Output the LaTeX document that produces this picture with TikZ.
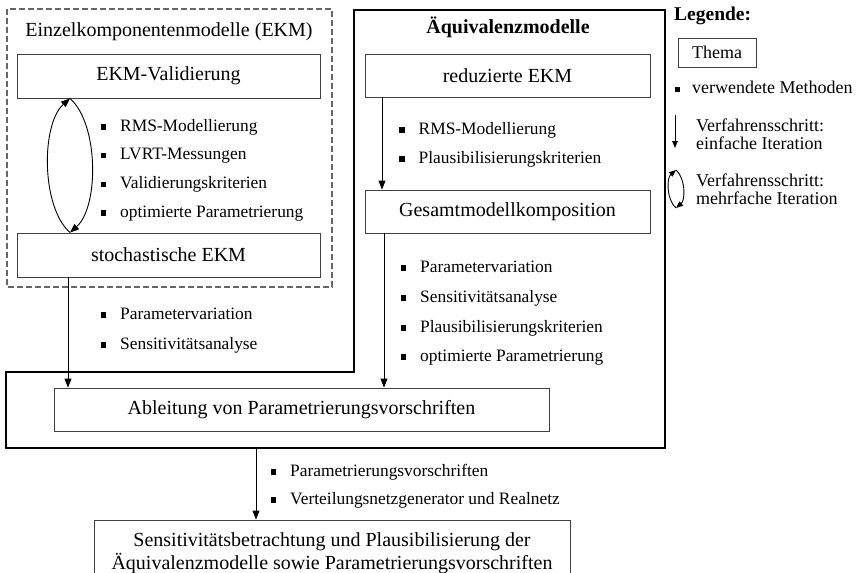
\documentclass[tikz,border=0pt]{standalone}
\usepackage{fontspec}
\setmainfont{Liberation Serif}
\usetikzlibrary{arrows.meta}
\newcommand\fsz[2]{\fontsize{#1}{#2}\selectfont}
\newcommand\bsq{\rule[1.5pt]{5.5pt}{5.5pt}\hspace{14pt}}
\begin{document}
\begin{tikzpicture}[x=1pt,y=-1pt,
  box/.style={draw=black!75, line width=0.9pt, inner sep=0pt, font=\fsz{20}{24}},
  item/.style={anchor=west, inner sep=0pt, font=\fsz{17.4}{20}, text height=11.5pt, text depth=3.5pt},
  legtext/.style={anchor=west, inner sep=0pt, align=left, font=\fsz{18}{18.5}},
  arr/.style={-{Triangle[length=9pt,width=7pt]}, line width=0.9pt},
  sarr/.style={-{Triangle[length=7pt,width=5.5pt]}, line width=0.9pt},
  frame/.style={line width=2pt, line join=miter},
  dashbox/.style={draw=black!60, line width=1.1pt, dash pattern=on 6pt off 3pt}]
\useasboundingbox (0,0) rectangle (860,573);
% ---- EKM (dashed group)
\draw[dashbox] (7,9) rectangle (332,287);
\node[inner sep=0pt, font=\fsz{20}{24}] (tekm) at (169,32) {Einzelkomponentenmodelle (EKM)};
\node[box, minimum width=303pt, minimum height=44pt] (val) at (168.5,76) {EKM-Validierung};
\node[box, minimum width=303pt, minimum height=44pt] (stoch) at (168.5,255) {stochastische EKM};
\node[item] (l1) at (100.5,127) {\bsq RMS-Modellierung};
\node[item] (l2) at (100.5,155.5) {\bsq LVRT-Messungen};
\node[item] (l3) at (100.5,184.5) {\bsq Validierungskriterien};
\node[item] (l4) at (100.5,213) {\bsq optimierte Parametrierung};
\coordinate (xit) at (70,0);
\draw[arr] (stoch.north -| xit) .. controls (41,207) and (41,124) .. (val.south -| xit);
\draw[arr] (val.south -| xit) .. controls (99,124) and (99,207) .. (stoch.north -| xit);
% ---- Aequivalenzmodelle (thick frame)
\draw[frame] (354,10) -- (665,10) -- (665,448) -- (6,448) -- (6,372) -- (354,372) -- cycle;
\node[inner sep=0pt, font=\fsz{20}{24}\bfseries] (taeq) at (508,27) {Äquivalenzmodelle};
\node[box, minimum width=285pt, minimum height=43pt] (red) at (507.5,75.5) {reduzierte EKM};
\node[box, minimum width=285pt, minimum height=43pt] (ges) at (507.5,211.5) {Gesamtmodellkomposition};
\node[item] (r1) at (399,130) {\bsq RMS-Modellierung};
\node[item] (r2) at (399,159) {\bsq Plausibilisierungskriterien};
\node[item] (r3) at (400.5,268) {\bsq Parametervariation};
\node[item] (r4) at (400.5,298) {\bsq Sensitivitätsanalyse};
\node[item] (r5) at (400.5,328) {\bsq Plausibilisierungskriterien};
\node[item] (r6) at (400.5,357) {\bsq optimierte Parametrierung};
\node[box, minimum width=495pt, minimum height=43pt] (abl) at (301.5,409.5) {Ableitung von Parametrierungsvorschriften};
\coordinate (xr1) at (382,0);
\coordinate (xr2) at (384,0);
\coordinate (xl) at (68,0);
\draw[arr] (red.south -| xr1) -- (ges.north -| xr1);
\draw[arr] (ges.south -| xr2) -- (abl.north -| xr2);
\draw[arr] (stoch.south -| xl) -- (abl.north -| xl);
\node[item] (p1) at (100.5,315) {\bsq Parametervariation};
\node[item] (p2) at (100.5,345) {\bsq Sensitivitätsanalyse};
% ---- bottom
\node[box, align=center, minimum width=476pt, minimum height=66pt, font=\fsz{20}{22.5}] (sens) at (332,553)
  {Sensitivitätsbetrachtung und Plausibilisierung der\\Äquivalenzmodelle sowie Parametrierungsvorschriften};
\coordinate (fb) at (256,448);
\draw[arr] (fb) -- (sens.north -| fb);
\node[item] (b1) at (270.5,472) {\bsq Parametrierungsvorschriften};
\node[item] (b2) at (270.5,500) {\bsq Verteilungsnetzgenerator und Realnetz};
% ---- legend
\node[anchor=west, inner sep=0pt, font=\fsz{19.5}{22}\bfseries] (leg) at (674,15.5) {Legende:};
\node[box, minimum width=78pt, minimum height=29pt, font=\fsz{18}{20}] (thema) at (717,52.5) {Thema};
\node[item, font=\fsz{18}{20}] (lm) at (674.5,89.5) {\rule[1.5pt]{5.5pt}{5.5pt}\hspace{12pt}verwendete Methoden};
\coordinate (la1) at (675,115);
\coordinate (la2) at (675,148);
\draw[sarr] (la1) -- (la2);
\node[legtext] (lt1) at (696,134) {Verfahrensschritt:\\einfache Iteration};
\coordinate (lb) at (676,208);
\coordinate (lt) at (676,170);
\draw[sarr] (lb) .. controls (666.5,200) and (666.5,178) .. (lt);
\draw[sarr] (lt) .. controls (685.5,178) and (685.5,200) .. (lb);
\node[legtext] (lt2) at (696,189) {Verfahrensschritt:\\mehrfache Iteration};
\end{tikzpicture}
\end{document}
